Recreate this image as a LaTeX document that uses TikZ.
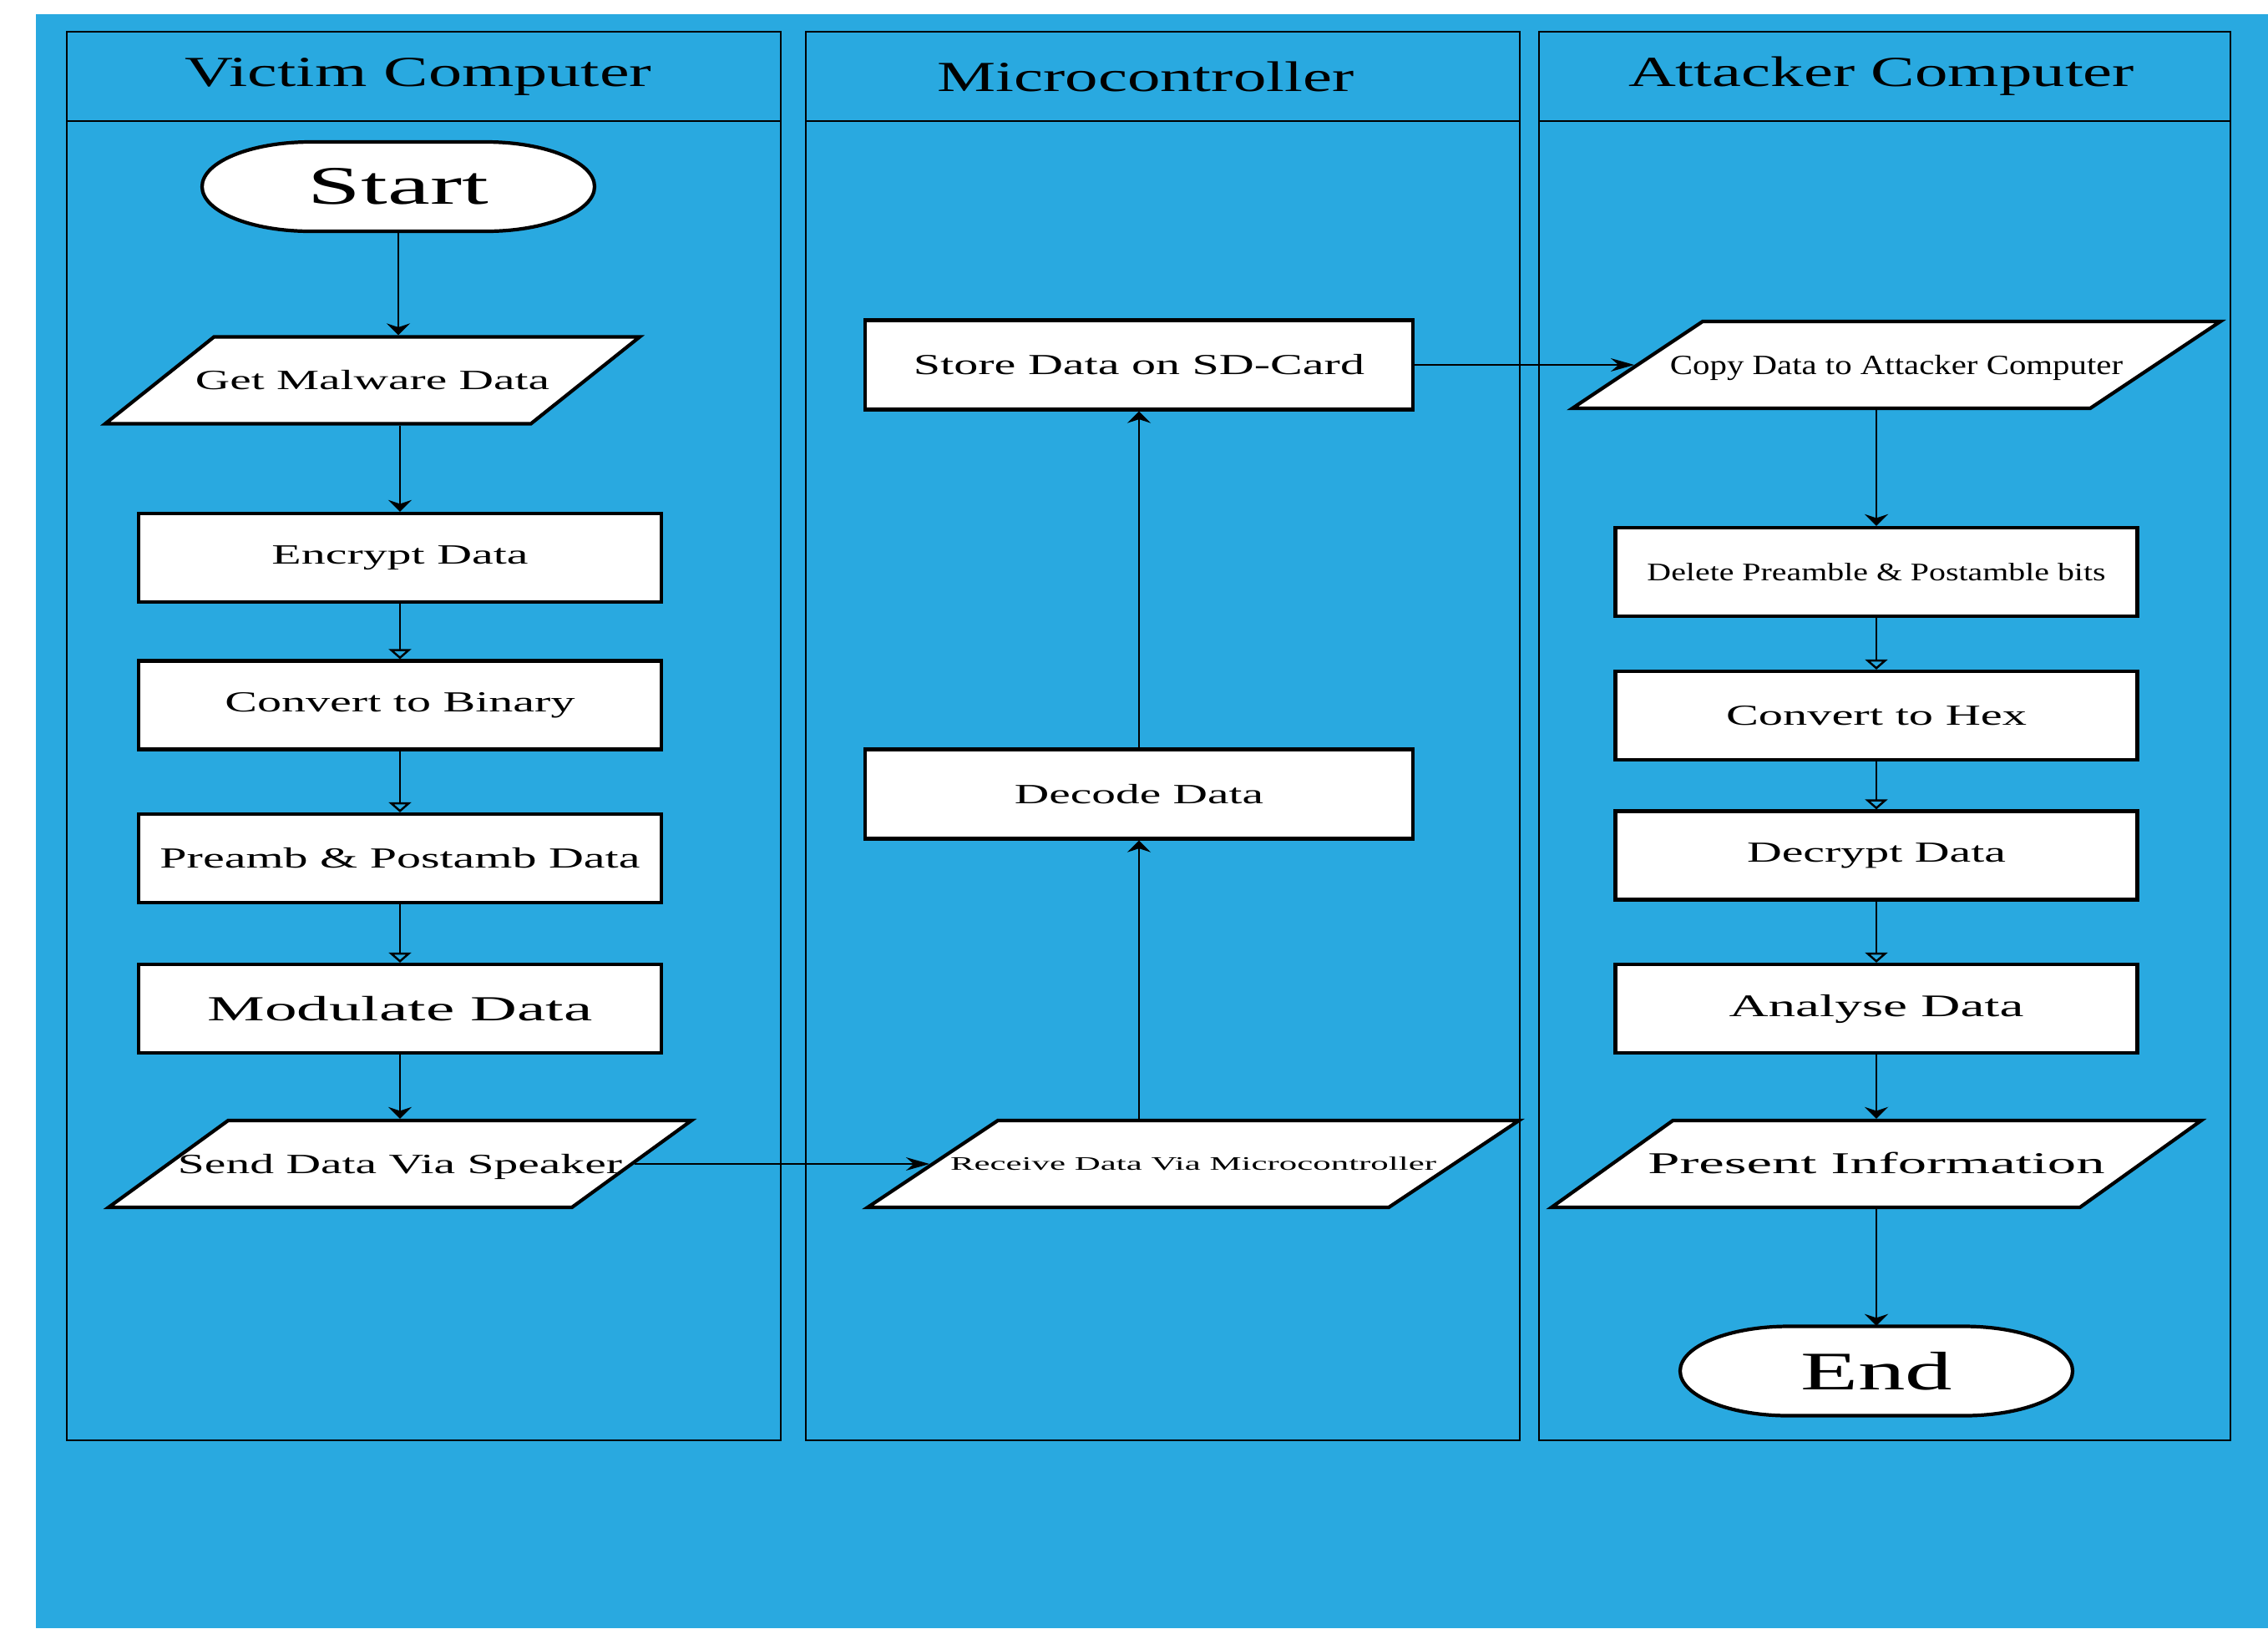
\documentclass[tikz,border=0pt]{standalone}
\usepackage{fontspec}
\setmainfont{Liberation Serif}
\usetikzlibrary{arrows.meta,shapes.geometric}
\definecolor{bgblue}{HTML}{29A9E0}
\newcommand{\wide}[2]{\resizebox{#1}{\height}{#2}}
\newcommand{\iotext}[2]{\makebox[0pt]{\raisebox{-0.33em}{\wide{#1}{#2}}}\rule[-5.2mm]{0pt}{10.4mm}}

\tikzset{
  lane/.style={draw,line width=0.8pt},
  box/.style={draw,fill=white,line width=1.2pt,minimum width=6.26cm,minimum height=1.06cm,inner sep=0pt},
  io/.style 2 args={trapezium,trapezium left angle=#1,trapezium right angle=#2,trapezium stretches body,
    draw,fill=white,line width=1.2pt,inner sep=0pt},
  term/.style={minimum width=4.7cm,minimum height=1.07cm,inner sep=0pt},
  flow/.style={-{Stealth[length=4pt,width=8pt]},line width=0.7pt},
  flowh/.style={-{Stealth[length=8pt,width=4.5pt]},line width=0.7pt},
  openflow/.style={-{Triangle[open,length=3.4pt,width=7.6pt]},line width=0.7pt},
  fs/.style={font=\fontsize{#1}{#1}\selectfont},
  terminal/.pic={
    \draw[fill=white,line width=1.2pt] (-1.05,0.535) -- (1.05,0.535)
      arc[start angle=90,end angle=-90,x radius=1.3,y radius=0.535] -- (-1.05,-0.535)
      arc[start angle=270,end angle=90,x radius=1.3,y radius=0.535] -- cycle;
  }
}

\begin{document}
\begin{tikzpicture}
\useasboundingbox (0,0) rectangle (27.16,-19.50);
\fill[bgblue] (0.43,-0.17) rectangle (27.16,-19.50);

% swimlanes
\foreach \xa/\xb in {0.80/9.35,9.65/18.20,18.43/26.71}{
  \draw[lane] (\xa,-0.38) rectangle (\xb,-17.25);
  \draw[lane] (\xa,-1.45) -- (\xb,-1.45);
}
\node[fs=14.6] (victim) at (5.01,-0.915) {\wide{5.59cm}{Victim Computer}};
\node[fs=14.6] (micro) at (13.72,-0.915) {\wide{4.99cm}{Microcontroller}};
\node[fs=14.6] (attacker) at (22.53,-0.915) {\wide{6.06cm}{Attacker Computer}};

% victim computer
\coordinate (startpos) at (4.77,-2.235);
\pic at (startpos) {terminal};
\node[term,fs=18.5] (start) at (startpos) {\wide{2.16cm}{Start}};
\node[io={38.6}{141.4},minimum width=6.40cm,fs=9.5] (get) at (4.46,-4.555) {\iotext{4.24cm}{Get Malware Data}};
\node[box,fs=9.5] (enc) at (4.79,-6.68) {\wide{3.07cm}{Encrypt Data}};
\node[box,fs=9.9] (bin) at (4.79,-8.445) {\wide{4.19cm}{Convert to Binary}};
\node[box,fs=9.9] (pre) at (4.79,-10.28) {\wide{5.75cm}{Preamb \& Postamb Data}};
\node[box,fs=12] (mod) at (4.79,-12.08) {\wide{4.61cm}{Modulate Data}};
\node[io={36}{144},minimum width=6.98cm,fs=9.5] (send) at (4.79,-13.94) {\iotext{5.32cm}{Send Data Via Speaker}};

% microcontroller
\node[box,minimum width=6.56cm,minimum height=1.07cm,fs=9.9] (store) at (13.64,-4.37) {\wide{5.40cm}{Store Data on SD-Card}};
\node[box,minimum width=6.56cm,minimum height=1.07cm,fs=9.5] (decode) at (13.64,-9.51) {\wide{2.98cm}{Decode Data}};
\node[io={33.7}{146.3},minimum width=7.80cm,fs=6.5] (recv) at (14.29,-13.94) {\iotext{5.82cm}{Receive Data Via Microcontroller}};

% attacker computer
\node[io={33.7}{146.3},minimum width=7.76cm,fs=9.5] (copy) at (22.71,-4.37) {\iotext{5.42cm}{Copy Data to Attacker Computer}};
\node[box,minimum width=6.25cm,fs=8.6] (del) at (22.47,-6.85) {\wide{5.49cm}{Delete Preamble \& Postamble bits}};
\node[box,minimum width=6.25cm,fs=9.9] (hex) at (22.47,-8.57) {\wide{3.60cm}{Convert to Hex}};
\node[box,minimum width=6.25cm,fs=9.9] (decrypt) at (22.47,-10.245) {\wide{3.10cm}{Decrypt Data}};
\node[box,minimum width=6.25cm,fs=10.7] (ana) at (22.47,-12.08) {\wide{3.53cm}{Analyse Data}};
\node[io={35.6}{144.4},minimum width=7.78cm,fs=10.3] (pres) at (22.47,-13.94) {\iotext{5.47cm}{Present Information}};
\coordinate (endpos) at (22.47,-16.42);
\pic at (endpos) {terminal};
\node[term,fs=18.5] (end) at (endpos) {\wide{1.82cm}{End}};

% connectors
\draw[flow] (start) -- (start |- get.north);
\draw[flow] (get.south -| enc) -- (enc);
\draw[openflow] (enc) -- (bin);
\draw[openflow] (bin) -- (pre);
\draw[openflow] (pre) -- (mod);
\draw[flow] (mod) -- (send);
\draw[flowh] (send) -- (recv);
\draw[flow] (recv.north -| decode) -- (decode);
\draw[flow] (decode) -- (store);
\draw[flowh] (store) -- (copy);
\draw[flow] (copy.south -| del) -- (del);
\draw[openflow] (del) -- (hex);
\draw[openflow] (hex) -- (decrypt);
\draw[openflow] (decrypt) -- (ana);
\draw[flow] (ana) -- (pres);
\draw[flow] (pres) -- (end);
\end{tikzpicture}
\end{document}
